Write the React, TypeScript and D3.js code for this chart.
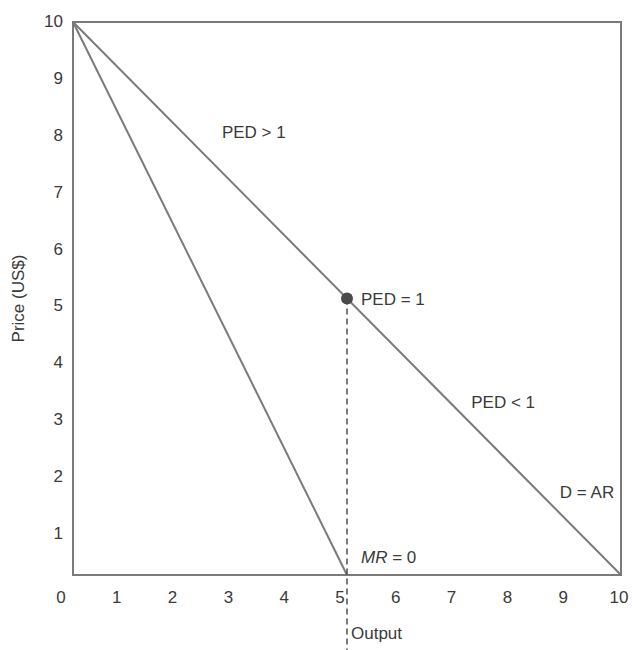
import React from "react";
import * as d3 from "d3";

const ticks = [0, 1, 2, 3, 4, 5, 6, 7, 8, 9, 10];
const demand: [number, number][] = [[0, 10], [10, 0]];
const marginalRevenue: [number, number][] = [[0, 10], [5, 0]];
const unitPoint: [number, number] = [5, 5];
const labels = [
  { text: "PED > 1", x: 3.3, y: 7.9 },
  { text: "PED < 1", x: 7.85, y: 3.02 },
  { text: "D = AR", x: 9.38, y: 1.39 },
];

export default function App() {
  const W = 632, H = 650;
  const x = d3.scaleLinear().domain([0, 10]).range([73, 621]);
  const y = d3.scaleLinear().domain([0, 10]).range([575, 22]);
  // tick label placement as in reference
  const xl = d3.scaleLinear().domain([0, 10]).range([61, 619]);
  const yl = d3.scaleLinear().domain([1, 10]).range([533, 21]);
  const line = d3.line<[number, number]>().x(d => x(d[0])).y(d => y(d[1]));
  const stroke = "#7a7a7a";
  const font = "'Liberation Sans', Arial, Helvetica, sans-serif";
  const textColor = "#3a3a3a";
  const fs = 17;
  return (
    <svg width={W} height={H} style={{ position: "absolute", left: 0, top: 0, background: "#fff" }} fontFamily={font}>
      <rect x={x(0)} y={y(10)} width={x(10) - x(0)} height={y(0) - y(10)} fill="none" stroke={stroke} strokeWidth={2} />
      <path d={line(demand) || ""} fill="none" stroke={stroke} strokeWidth={2} />
      <path d={line(marginalRevenue) || ""} fill="none" stroke={stroke} strokeWidth={2} />
      <line x1={x(unitPoint[0])} x2={x(unitPoint[0])} y1={y(unitPoint[1])} y2={H} stroke="#333" strokeWidth={1.3} strokeDasharray="6,4" />
      <circle cx={x(unitPoint[0])} cy={y(unitPoint[1])} r={6} fill="#4a4a4a" />
      {ticks.map(t => (
        <text key={"x" + t} x={xl(t)} y={603} textAnchor="middle" fontSize={fs} fill={textColor}>{t}</text>
      ))}
      {ticks.filter(t => t > 0).map(t => (
        <text key={"y" + t} x={63} y={yl(t) + 6} textAnchor="end" fontSize={fs} fill={textColor}>{t}</text>
      ))}
      {labels.map(l => (
        <text key={l.text} x={x(l.x)} y={y(l.y)} textAnchor="middle" fontSize={fs} fill={textColor}>{l.text}</text>
      ))}
      <text x={x(5) + 14} y={y(5) + 6} fontSize={fs} fill={textColor}>PED = 1</text>
      <text x={x(5) + 14} y={y(0) - 12} fontSize={fs} fill={textColor}><tspan fontStyle="italic">MR</tspan> = 0</text>
      <text x={x(5) + 4} y={639} fontSize={fs} fill={textColor}>Output</text>
      <text transform={`translate(24,${y(5)}) rotate(-90)`} textAnchor="middle" fontSize={fs} fill={textColor}>Price (US$)</text>
    </svg>
  );
}
